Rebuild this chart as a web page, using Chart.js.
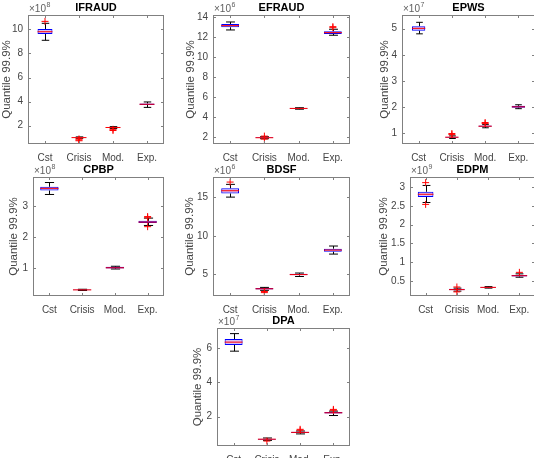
<!DOCTYPE html>
<html>
<head>
<meta charset="UTF-8">
<script src="https://cdn.jsdelivr.net/npm/chart.js"></script>
<style>
    html, body { margin: 0; padding: 0; overflow: hidden; background: #fff; }
    body { width: 534px; height: 458px; position: relative; }
    canvas { position: absolute; }
</style>
</head>
<body>
<script>
// ---- data (values in units of 10^exponent) ----
const categories = ['Cst', 'Crisis', 'Mod.', 'Exp.'];
const panelNames = ['IFRAUD', 'EFRAUD', 'EPWS', 'CPBP', 'BDSF', 'EDPM', 'DPA'];
const exponents = [8, 6, 7, 8, 6, 9, 7];

const whiskerLow = [
    [9.09, 0.95, 1.76, 3.52],
    [12.73, 1.82, 4.78, 12.20],
    [4.80, 0.80, 1.21, 1.94],
    [3.39, 0.26, 0.96, 2.38],
    [15.04, 2.90, 4.70, 7.62],
    [2.59, 0.23, 0.31, 0.60],
    [5.84, 0.60, 0.98, 2.06]
];
const quart1 = [
    [9.61, 0.99, 1.82, 3.72],
    [13.00, 1.88, 4.82, 12.33],
    [4.92, 0.83, 1.25, 1.98],
    [3.52, 0.27, 0.98, 2.46],
    [15.52, 3.00, 4.85, 7.93],
    [2.74, 0.25, 0.32, 0.62],
    [6.20, 0.64, 1.04, 2.18]
];
const medians = [
    [9.80, 1.01, 1.85, 3.78],
    [13.16, 1.92, 4.86, 12.46],
    [5.01, 0.85, 1.27, 2.01],
    [3.59, 0.28, 1.00, 2.49],
    [15.87, 3.10, 4.95, 8.14],
    [2.81, 0.27, 0.33, 0.64],
    [6.37, 0.67, 1.07, 2.22]
];
const quart3 = [
    [10.03, 1.04, 1.88, 3.84],
    [13.33, 1.96, 4.90, 12.60],
    [5.09, 0.87, 1.30, 2.05],
    [3.64, 0.29, 1.03, 2.53],
    [16.18, 3.20, 5.05, 8.32],
    [2.875, 0.29, 0.34, 0.66],
    [6.55, 0.70, 1.10, 2.27]
];
const whiskerHigh = [
    [10.50, 1.07, 1.92, 3.97],
    [13.53, 2.02, 4.93, 12.80],
    [5.24, 0.90, 1.34, 2.09],
    [3.78, 0.30, 1.05, 2.62],
    [16.70, 3.28, 5.15, 8.67],
    [3.045, 0.31, 0.35, 0.69],
    [6.87, 0.74, 1.15, 2.32]
];
const outliers = [
    [[10.66], [0.90, 0.82, 0.75], [1.70, 1.60], []],
    [[], [1.78, 2.08], [], [12.96, 13.06]],
    [[], [0.95, 0.99], [1.37, 1.41], []],
    [[], [], [], [2.67, 2.63, 2.34]],
    [[17.0], [2.75, 2.60], [], []],
    [[3.12, 2.54], [0.34, 0.21], [], [0.73]],
    [[], [0.56], [1.20, 1.25], [2.42, 2.37]]
];
const yLimits = [
    [0.48, 11.19], [1.29, 14.23], [0.59, 5.52], [0.08, 3.96],
    [2.16, 17.66], [0.10, 3.27], [0.27, 7.20]
];
const yTicks = [
    [2, 4, 6, 8, 10],
    [2, 4, 6, 8, 10, 12, 14],
    [1, 2, 3, 4, 5],
    [1, 2, 3],
    [5, 10, 15],
    [0.5, 1, 1.5, 2, 2.5, 3],
    [2, 4, 6]
];

// ---- layout: plot areas [left, top, right, bottom] in page pixels ----
const plotBoxes = [
    [28, 15, 164, 144], [213, 15, 350, 144], [402, 15, 535, 144],
    [33, 177, 164, 296], [213, 177, 350, 296], [410, 177, 535, 296],
    [217, 328, 350, 446]
];
const ylabelGap = [21, 22, 17, 19, 23, 26, 19];
const boxFrac = [0.44, 0.52, 0.40, 0.56, 0.52, 0.50, 0.54];

const M_LEFT = 45, M_TOP = 22, M_RIGHT = 4, M_BOTTOM = 20;
const AXIS_COLOR = '#808080';
const TEXT_COLOR = '#454545';
const FONT = '"Liberation Sans", Arial, Helvetica, sans-serif';

function seg(ctx, x1, y1, x2, y2) {
    ctx.beginPath();
    ctx.moveTo(x1, y1);
    ctx.lineTo(x2, y2);
    ctx.stroke();
}

const boxPlugin = {
    id: 'boxplot',
    beforeDatasetsDraw(chart, args, opts) {
        // whiskers and caps
        const p = opts.panel, ctx = chart.ctx;
        const x = chart.scales.x, y = chart.scales.y;
        const step = x.getPixelForValue(1) - x.getPixelForValue(0);
        const cap = step * boxFrac[p] / 4;
        ctx.save();
        ctx.strokeStyle = '#000';
        ctx.lineWidth = 1;
        categories.forEach((c, i) => {
            const cx = Math.round(x.getPixelForValue(i)) + 0.5;
            const lo = y.getPixelForValue(whiskerLow[p][i]);
            const hi = y.getPixelForValue(whiskerHigh[p][i]);
            seg(ctx, cx, y.getPixelForValue(quart3[p][i]), cx, hi);
            seg(ctx, cx, y.getPixelForValue(quart1[p][i]), cx, lo);
            seg(ctx, cx - cap, hi, cx + cap, hi);
            seg(ctx, cx - cap, lo, cx + cap, lo);
        });
        ctx.restore();
    },
    afterDatasetsDraw(chart, args, opts) {
        // medians
        const p = opts.panel, ctx = chart.ctx;
        const x = chart.scales.x, y = chart.scales.y;
        const step = x.getPixelForValue(1) - x.getPixelForValue(0);
        const half = step * boxFrac[p] / 2;
        ctx.save();
        ctx.strokeStyle = '#ff0000';
        ctx.lineWidth = 1;
        categories.forEach((c, i) => {
            const cx = x.getPixelForValue(i);
            const my = y.getPixelForValue(medians[p][i]);
            seg(ctx, cx - half, my, cx + half, my);
        });
        ctx.restore();
    },
    afterDraw(chart, args, opts) {
        const p = opts.panel, ctx = chart.ctx;
        const a = chart.chartArea;
        const x = chart.scales.x, y = chart.scales.y;
        ctx.save();
        // frame
        ctx.strokeStyle = AXIS_COLOR;
        ctx.lineWidth = 1;
        ctx.strokeRect(a.left + 0.5, a.top + 0.5, a.right - a.left - 1, a.bottom - a.top - 1);
        // inward ticks
        yTicks[p].forEach(v => {
            const py = Math.round(y.getPixelForValue(v)) + 0.5;
            seg(ctx, a.left, py, a.left + 3, py);
            seg(ctx, a.right - 3, py, a.right, py);
        });
        categories.forEach((c, i) => {
            const px = Math.round(x.getPixelForValue(i)) + 0.5;
            seg(ctx, px, a.bottom, px, a.bottom - 3);
            seg(ctx, px, a.top, px, a.top + 3);
        });
        // title
        ctx.fillStyle = '#000';
        ctx.font = 'bold 11px ' + FONT;
        ctx.textAlign = 'center';
        ctx.textBaseline = 'middle';
        ctx.fillText(panelNames[p], (a.left + a.right) / 2, a.top - 7.5);
        // exponent
        ctx.fillStyle = '#606060';
        ctx.textAlign = 'left';
        ctx.textBaseline = 'alphabetic';
        ctx.font = '10px ' + FONT;
        const base = '\u00d710';
        ctx.fillText(base, a.left + 1, a.top - 3);
        const w = ctx.measureText(base).width;
        ctx.font = '7px ' + FONT;
        ctx.fillText(String(exponents[p]), a.left + 1 + w + 0.5, a.top - 8);
        // y label
        ctx.fillStyle = TEXT_COLOR;
        ctx.font = '11.5px ' + FONT;
        ctx.translate(a.left - ylabelGap[p], (a.top + a.bottom) / 2);
        ctx.rotate(-Math.PI / 2);
        ctx.textAlign = 'center';
        ctx.textBaseline = 'middle';
        ctx.fillText('Quantile 99.9%', 0, 0);
        ctx.restore();
    }
};

panelNames.forEach((name, p) => {
    const [L, T, R, B] = plotBoxes[p];
    const cv = document.createElement('canvas');
    cv.width = (R - L) + M_LEFT + M_RIGHT;
    cv.height = (B - T) + M_TOP + M_BOTTOM;
    cv.style.left = (L - M_LEFT) + 'px';
    cv.style.top = (T - M_TOP) + 'px';
    cv.style.width = cv.width + 'px';
    cv.style.height = cv.height + 'px';
    document.body.appendChild(cv);

    const boxes = categories.map((c, i) => [quart1[p][i], quart3[p][i]]);
    const outPts = [];
    categories.forEach((c, i) => outliers[p][i].forEach(v => outPts.push({ x: c, y: v })));

    new Chart(cv, {
        type: 'bar',
        data: {
            labels: categories,
            datasets: [{
                data: boxes,
                backgroundColor: 'rgba(175, 115, 235, 0.45)',
                borderColor: '#0000ff',
                borderWidth: 1,
                borderSkipped: false,
                barPercentage: boxFrac[p],
                categoryPercentage: 1,
                order: 1
            }, {
                type: 'scatter',
                data: outPts,
                pointStyle: 'cross',
                radius: 3.5,
                borderColor: '#ff0000',
                borderWidth: 1,
                order: 0
            }]
        },
        options: {
            responsive: false,
            animation: false,
            devicePixelRatio: 1,
            layout: { autoPadding: false, padding: { top: M_TOP, right: M_RIGHT, left: 0, bottom: 0 } },
            plugins: {
                legend: { display: false },
                tooltip: { enabled: false },
                boxplot: { panel: p }
            },
            scales: {
                x: {
                    type: 'category',
                    offset: true,
                    grid: { display: false, drawTicks: false },
                    border: { display: false },
                    ticks: { color: TEXT_COLOR, font: { family: FONT, size: 10 }, padding: 8, maxRotation: 0 },
                    afterFit: s => { s.height = M_BOTTOM; }
                },
                y: {
                    type: 'linear',
                    min: yLimits[p][0],
                    max: yLimits[p][1],
                    grid: { display: false, drawTicks: false },
                    border: { display: false },
                    afterBuildTicks: s => { s.ticks = yTicks[p].map(v => ({ value: v })); },
                    ticks: {
                        color: TEXT_COLOR,
                        font: { family: FONT, size: 10 },
                        padding: 5,
                        callback: v => String(v)
                    },
                    afterFit: s => { s.width = M_LEFT; }
                }
            }
        },
        plugins: [boxPlugin]
    });
});
</script>
</body>
</html>
